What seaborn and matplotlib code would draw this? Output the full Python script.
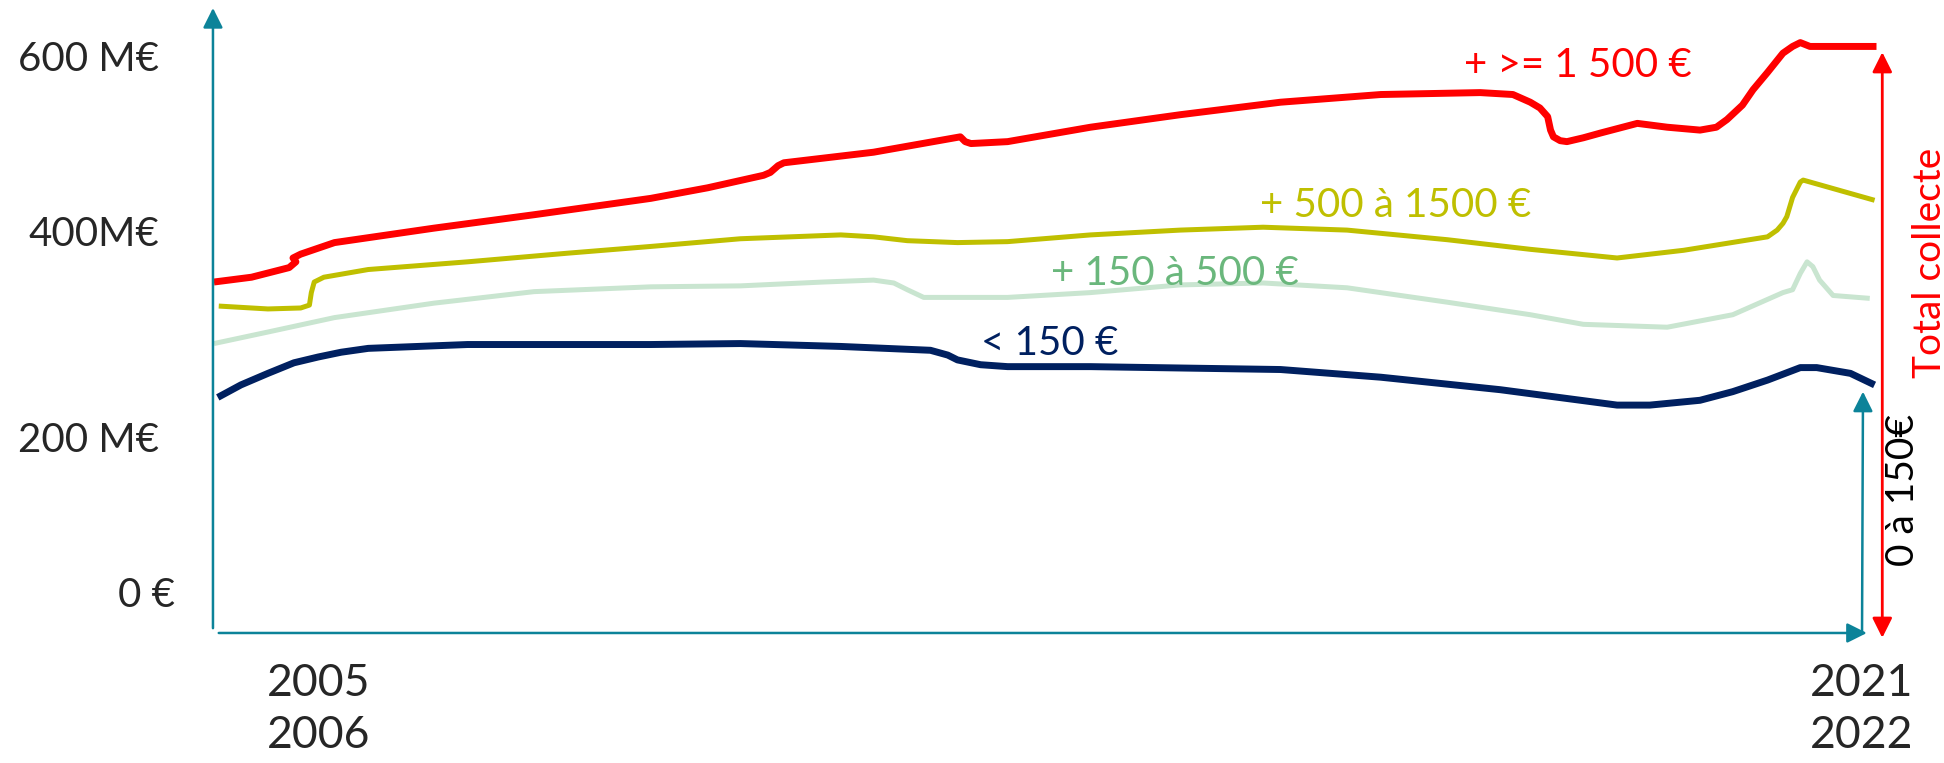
import numpy as np
import pandas as pd
import seaborn as sns
import matplotlib.pyplot as plt
from matplotlib.transforms import ScaledTranslation

# collecte par tranche de don, en M€ (saison 2005-06 = 2005.5)
year_1500 = [2004.41, 2004.80, 2005.19, 2005.26, 2005.23, 2005.31, 2005.66, 2006.69, 2007.73,
             2008.94, 2009.53, 2010.11, 2010.18, 2010.26, 2010.32, 2011.25, 2012.15, 2012.20,
             2012.26, 2012.64, 2013.50, 2014.43, 2015.47, 2016.51, 2017.54, 2017.88, 2018.06,
             2018.16, 2018.24, 2018.27, 2018.30, 2018.37, 2018.44, 2018.61, 2018.79, 2019.17,
             2019.48, 2019.82, 2019.99, 2020.10, 2020.26, 2020.37, 2020.52, 2020.68, 2020.78,
             2020.86, 2020.96, 2021.65]
val_1500 = [365, 370, 380, 386, 390, 394, 406, 421, 435,
            452, 463, 476, 479, 486, 489, 500, 516, 511,
            509, 511, 526, 539, 552, 560, 562, 560, 552,
            546, 537, 523, 516, 512, 511, 515, 520, 530,
            526, 523, 526, 534, 549, 565, 583, 603, 610,
            614, 610, 610]

year_500 = [2004.46, 2004.97, 2005.31, 2005.40, 2005.42, 2005.45, 2005.55, 2006.01, 2007.04,
            2008.08, 2008.94, 2009.87, 2010.91, 2011.25, 2011.60, 2012.12, 2012.64, 2013.50,
            2014.43, 2015.29, 2016.16, 2017.20, 2018.06, 2018.96, 2019.65, 2020.52, 2020.62,
            2020.68, 2020.72, 2020.78, 2020.86, 2020.89, 2021.63]
val_500 = [340, 337, 338, 341, 354, 365, 370, 378, 386,
           395, 402, 410, 414, 412, 408, 406, 407, 414,
           419, 422, 419, 409, 399, 390, 398, 412, 419,
           426, 433, 453, 469, 471, 450]

year_150 = [2004.41, 2004.97, 2005.66, 2006.69, 2007.73, 2008.94, 2009.87, 2010.73, 2011.25,
            2011.46, 2011.60, 2011.77, 2012.12, 2012.64, 2013.50, 2014.43, 2015.29, 2016.16,
            2017.20, 2018.06, 2018.61, 2019.48, 2020.16, 2020.68, 2020.78, 2020.86, 2020.93,
            2020.99, 2021.06, 2021.20, 2021.58]
val_150 = [301, 313, 328, 343, 355, 360, 361, 365, 367,
           364, 357, 349, 349, 349, 354, 362, 364, 359,
           344, 331, 321, 318, 331, 354, 357, 374, 386,
           381, 367, 351, 348]

year_0 = [2004.45, 2004.69, 2004.97, 2005.24, 2005.49, 2005.73, 2006.01, 2007.04, 2008.94,
          2009.87, 2010.91, 2011.84, 2012.02, 2012.12, 2012.36, 2012.64, 2013.50, 2015.47,
          2016.51, 2017.75, 2018.96, 2019.30, 2019.82, 2020.16, 2020.52, 2020.86, 2021.03,
          2021.38, 2021.63]
val_0 = [245, 258, 270, 281, 287, 292, 296, 300, 300,
         301, 298, 294, 289, 284, 279, 277, 277, 274,
         266, 253, 237, 237, 242, 251, 263, 276, 276,
         270, 258]

ytick_pos = [43, 204, 418, 600]
ytick_labels = ["0 €", "200 M€", "400M€", "600 M€"]
xtick_pos = [2005.5, 2021.5]
xtick_labels = ["2005\n2006", "2021\n2022"]

RED = "#FF0000"
OLIVE = "#BFBF00"
LIGHT = "#C9E5D0"
GREEN_TXT = "#6AB77C"
NAVY = "#002060"
TEAL = "#0C8399"

sns.set_style("white")
plt.rcParams["font.family"] = ["Lato", "DejaVu Sans"]

fig = plt.figure(figsize=(19.44, 7.63), dpi=100)
ax = fig.add_axes([212 / 1944, 103 / 763, 1732 / 1944, 660 / 763])

series = [
    (year_1500, val_1500, RED, 5.0),
    (year_500, val_500, OLIVE, 3.6),
    (year_150, val_150, LIGHT, 3.6),
    (year_0, val_0, NAVY, 5.0),
]
for xs, ys, col, lw in series:
    df = pd.DataFrame({"annee": xs, "collecte": ys})
    sns.lineplot(data=df, x="annee", y="collecte", sort=False, estimator=None,
                 color=col, linewidth=lw, ax=ax, solid_joinstyle="round",
                 solid_capstyle="butt")

ax.set_xlim(2004.39, 2022.35)
ax.set_ylim(-28.1, 658.3)
for s in ax.spines.values():
    s.set_visible(False)
ax.set_xlabel("")
ax.set_ylabel("")
ax.set_yticks(ytick_pos)
ax.set_yticklabels(ytick_labels)
ax.set_xticks(xtick_pos)
ax.set_xticklabels(xtick_labels, linespacing=1.35)
ax.tick_params(axis="y", length=0, pad=38, labelsize=29)
ax.tick_params(axis="x", length=0, pad=2, labelsize=32)
# le "0 €" est un peu plus a droite
lbl0 = ax.get_yticklabels()[0]
lbl0.set_transform(lbl0.get_transform() + ScaledTranslation(0.16, 0, fig.dpi_scale_trans))

head = "-|>,head_length=0.6,head_width=0.3"
# axes en fleches
ax.annotate("", xy=(2004.40, 650), xytext=(2004.40, 5),
            arrowprops=dict(arrowstyle=head, mutation_scale=20, lw=1.8, color=TEAL,
                            shrinkA=0, shrinkB=0))
ax.annotate("", xy=(2021.55, 0), xytext=(2004.46, 0),
            arrowprops=dict(arrowstyle=head, mutation_scale=20, lw=1.8, color=TEAL,
                            shrinkA=0, shrinkB=0))
ax.annotate("", xy=(2021.51, 251), xytext=(2021.50, 0),
            arrowprops=dict(arrowstyle=head, mutation_scale=20, lw=1.8, color=TEAL,
                            shrinkA=0, shrinkB=0))
ax.annotate("", xy=(2021.71, 604), xytext=(2021.71, -5),
            arrowprops=dict(arrowstyle="<|-|>,head_length=0.6,head_width=0.3",
                            mutation_scale=20, lw=2.0, color=RED, shrinkA=0, shrinkB=0))

# etiquettes des series
ax.text(2017.37, 578, "+ >= 1 500 €", color=RED, fontsize=29, va="baseline")
ax.text(2015.26, 433, "+ 500 à 1500 €", color=OLIVE, fontsize=29, va="baseline")
ax.text(2013.09, 362, "+ 150 à 500 €", color=GREEN_TXT, fontsize=29, va="baseline")
ax.text(2012.36, 289, "< 150 €", color=NAVY, fontsize=29, va="baseline")

ax.text(2022.2, 385, "Total collecte", color=RED, fontsize=28, rotation=90,
        ha="center", va="center")
ax.text(2021.93, 149, "0 à 150€", color="black", fontsize=28, rotation=90,
        ha="center", va="center")

fig.savefig("out.png", dpi=100)
